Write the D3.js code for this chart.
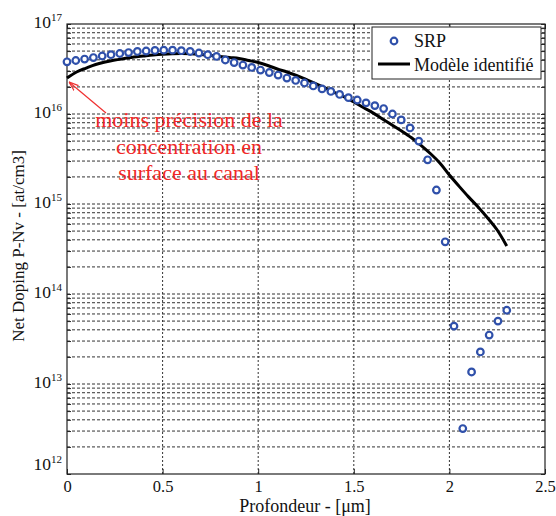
<!DOCTYPE html>
<html><head><meta charset="utf-8">
<script src="https://cdn.jsdelivr.net/npm/d3@7"></script>
<style>body{margin:0;background:#fff}svg{display:block}text{font-family:"Liberation Serif","DejaVu Serif",serif}</style>
</head><body>
<svg id="c" width="556" height="516" font-family="Liberation Serif"></svg>
<script>
// SRP measurement (depth in µm, net doping at/cm3)
const srpDepth = [0.000,0.046,0.092,0.138,0.184,0.230,0.276,0.322,0.368,0.414,0.460,0.506,0.552,0.598,0.644,0.690,0.736,0.782,0.828,0.874,0.920,0.966,1.012,1.058,1.104,1.150,1.196,1.242,1.288,1.334,1.380,1.426,1.472,1.518,1.564,1.610,1.656,1.702,1.748,1.794,1.840,1.886,1.932,1.978,2.024,2.070,2.116,2.162,2.208,2.254,2.300];
const srpDoping = [3.8e16,3.93e16,4.08e16,4.24e16,4.41e16,4.56e16,4.70e16,4.82e16,4.95e16,5.01e16,5.08e16,5.12e16,5.12e16,5.05e16,4.95e16,4.76e16,4.56e16,4.36e16,3.98e16,3.73e16,3.50e16,3.29e16,3.08e16,2.89e16,2.71e16,2.51e16,2.36e16,2.21e16,2.05e16,1.90e16,1.78e16,1.65e16,1.52e16,1.43e16,1.33e16,1.24e16,1.15e16,1.0e16,8.6e15,7.0e15,5.0e15,3.1e15,1.43e15,3.8e14,4.4e13,3.2e12,1.36e13,2.27e13,3.5e13,5.0e13,6.6e13];
// Identified model
const modelDepth = [0,0.05,0.1,0.15,0.2,0.25,0.3,0.35,0.4,0.45,0.5,0.55,0.6,0.65,0.7,0.75,0.8,0.85,0.9,0.95,1.0,1.05,1.1,1.15,1.2,1.25,1.3,1.35,1.4,1.45,1.5,1.55,1.6,1.65,1.7,1.75,1.8,1.85,1.9,1.95,2.0,2.05,2.1,2.15,2.2,2.25,2.3];
const modelDoping = [2.51e16,2.93e16,3.24e16,3.55e16,3.78e16,3.98e16,4.14e16,4.30e16,4.41e16,4.52e16,4.61e16,4.67e16,4.69e16,4.67e16,4.58e16,4.47e16,4.36e16,4.24e16,4.14e16,3.93e16,3.73e16,3.46e16,3.16e16,2.93e16,2.68e16,2.42e16,2.18e16,1.95e16,1.73e16,1.55e16,1.36e16,1.18e16,1.03e16,8.8e15,7.55e15,6.47e15,5.48e15,4.52e15,3.64e15,2.86e15,2.10e15,1.58e15,1.20e15,9.26e14,6.99e14,5.14e14,3.41e14];
const xTicks = [0,0.5,1,1.5,2,2.5];
const xTickLabels = ["0","0.5","1","1.5","2","2.5"];
const yExponents = [12,13,14,15,16,17];
const seriesNames = ["SRP","Modèle identifié"];
const annotationLines = ["moins précision de la","concentration en","surface au canal"];
const xLabel = "Profondeur - [\u03bcm]";
const yLabel = "Net Doping P-Nv - [at/cm3]";

const FONT = "Liberation Serif";
const svg = d3.select("#c");
const L=67,R=545,T=24,B=474;
const x = d3.scaleLinear().domain([0,2.5]).range([L,R]);
const y = d3.scaleLog().domain([1e12,1e17]).range([B,T]);

// grid
const minorY = [];
for (let e=12;e<17;e++) for (let m=1;m<10;m++) minorY.push(m*Math.pow(10,e));
minorY.push(1e17);
const g = svg.append("g");
g.selectAll("line.hy").data(minorY.filter(v=>v>1e12&&v<1e17)).join("line")
  .attr("x1",L).attr("x2",R).attr("y1",d=>y(d)).attr("y2",d=>y(d))
  .attr("stroke","#333").attr("stroke-width",1).attr("stroke-dasharray","3,2");
g.selectAll("line.vx").data(xTicks.filter(v=>v>0&&v<2.5)).join("line")
  .attr("y1",T).attr("y2",B).attr("x1",d=>x(d)).attr("x2",d=>x(d))
  .attr("stroke","#333").attr("stroke-width",1).attr("stroke-dasharray","2,2");

// axes with inside ticks
const axB = d3.axisBottom(x).tickValues(xTicks).tickSize(-5).tickFormat((d,i)=>xTickLabels[i]);
const axT = d3.axisTop(x).tickValues(xTicks).tickSize(-5).tickFormat("");
const axL = d3.axisLeft(y).tickValues(minorY).tickSize(-4).tickFormat("");
const axR = d3.axisRight(y).tickValues(minorY).tickSize(-4).tickFormat("");
const styleAx = s=>{s.select(".domain").remove();s.selectAll("line").attr("stroke","#222");};
svg.append("g").attr("transform",`translate(0,${B})`).call(axB).call(styleAx)
  .selectAll("text").attr("font-size",16.5).attr("fill","#111").attr("dy","0.9em")
  .style("font-family",FONT);
svg.append("g").attr("transform",`translate(0,${T})`).call(axT).call(styleAx);
svg.append("g").attr("transform",`translate(${L},0)`).call(axL).call(styleAx);
svg.append("g").attr("transform",`translate(${R},0)`).call(axR).call(styleAx);
svg.append("rect").attr("x",L).attr("y",T).attr("width",R-L).attr("height",B-T)
  .attr("fill","none").attr("stroke","#222").attr("stroke-width",1.2);

// y tick labels 10^n
yExponents.forEach(e=>{
  const yy = y(Math.pow(10,e)) + (e===12 ? -4 : 4);
  const t = svg.append("text").attr("x",L-5).attr("y",yy).attr("text-anchor","end")
    .attr("font-size",17.5).attr("fill","#111").style("font-family",FONT);
  t.append("tspan").text("10");
  t.append("tspan").attr("dy",-7.5).attr("font-size",11).text(String(e));
});

// model line
svg.append("path").datum(modelDepth.map((d,i)=>[d,modelDoping[i]]))
  .attr("d",d3.line().x(d=>x(d[0])).y(d=>y(d[1])).curve(d3.curveMonotoneX))
  .attr("fill","none").attr("stroke","#000").attr("stroke-width",3);

// SRP markers
svg.selectAll("circle.srp").data(srpDepth.map((d,i)=>[d,srpDoping[i]])).join("circle")
  .attr("cx",d=>x(d[0])).attr("cy",d=>y(d[1])).attr("r",3.3)
  .attr("fill","#fff").attr("stroke","#2f50aa").attr("stroke-width",2.2);

// annotation
svg.append("defs").append("marker").attr("id","ah").attr("viewBox","0 0 10 10")
  .attr("refX",10).attr("refY",5).attr("markerWidth",8).attr("markerHeight",8).attr("orient","auto")
  .append("path").attr("d","M0,1.5 L10,5 L0,8.5").attr("fill","none").attr("stroke","#f03030").attr("stroke-width",1.3);
svg.append("line").attr("x1",106).attr("y1",113).attr("x2",x(0)+2).attr("y2",y(modelDoping[0])+4)
  .attr("stroke","#f03030").attr("stroke-width",1.2).attr("marker-end","url(#ah)");
annotationLines.forEach((s,i)=>{
  svg.append("text").attr("x",189).attr("y",127+i*26.5).attr("text-anchor","middle")
    .attr("font-size",22).attr("fill","#f02828").style("font-family",FONT).text(s);
});

// legend
const lg = svg.append("g");
lg.append("rect").attr("x",372).attr("y",27).attr("width",169).attr("height",52)
  .attr("fill","#fff").attr("stroke","#222").attr("stroke-width",1);
lg.append("circle").attr("cx",394).attr("cy",41).attr("r",3.3)
  .attr("fill","#fff").attr("stroke","#2f50aa").attr("stroke-width",2.2);
lg.append("line").attr("x1",378).attr("x2",410).attr("y1",64).attr("y2",64)
  .attr("stroke","#000").attr("stroke-width",3);
lg.append("text").attr("x",414).attr("y",47).attr("font-size",18).attr("fill","#111").style("font-family",FONT).text(seriesNames[0]);
lg.append("text").attr("x",414).attr("y",71).attr("font-size",18).attr("fill","#111").style("font-family",FONT).text(seriesNames[1]);

// axis labels
svg.append("text").attr("x",305).attr("y",512).attr("text-anchor","middle")
  .attr("font-size",18).attr("fill","#111").style("font-family",FONT).text(xLabel);
svg.append("text").attr("transform",`translate(24,246) rotate(-90)`).attr("text-anchor","middle")
  .attr("font-size",17).attr("fill","#111").style("font-family",FONT).text(yLabel);
</script>
</body></html>
